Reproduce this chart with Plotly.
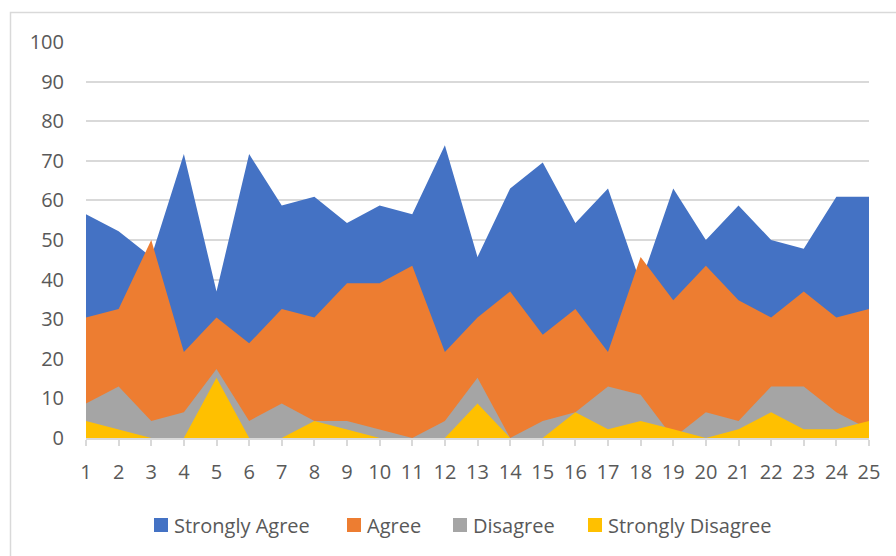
import plotly.graph_objects as go

respondents = [1, 2, 3, 4, 5, 6, 7, 8, 9, 10, 11, 12, 13, 14, 15, 16, 17, 18, 19, 20, 21, 22, 23, 24, 25]
tick_labels = ["1", "2", "3", "4", "5", "6", "7", "8", "9", "10", "11", "12", "13",
               "14", "15", "16", "17", "18", "19", "20", "21", "22", "23", "24", "25"]

strongly_agree = [56.5, 52.2, 45.7, 71.7, 37.0, 71.7, 58.7, 60.9, 54.3, 58.7, 56.5, 73.9, 45.7,
                  63.0, 69.6, 54.3, 63.0, 39.1, 63.0, 50.0, 58.7, 50.0, 47.8, 60.9, 60.9]
agree = [30.4, 32.6, 50.0, 21.7, 30.4, 23.9, 32.6, 30.4, 39.1, 39.1, 43.5, 21.7, 30.4,
         37.0, 26.1, 32.6, 21.7, 45.7, 34.8, 43.5, 34.8, 30.4, 37.0, 30.4, 32.6]
disagree = [8.7, 13.0, 4.3, 6.5, 17.4, 4.3, 8.7, 4.3, 4.3, 2.2, 0.0, 4.3, 15.2,
            0.0, 4.3, 6.5, 13.0, 10.9, 0.0, 6.5, 4.3, 13.0, 13.0, 6.5, 2.2]
strongly_disagree = [4.3, 2.2, 0.0, 0.0, 15.2, 0.0, 0.0, 4.3, 2.2, 0.0, 0.0, 0.0, 8.7,
                     0.0, 0.0, 6.5, 2.2, 4.3, 2.2, 0.0, 2.2, 6.5, 2.2, 2.2, 4.3]

series_names = ["Strongly Agree", "Agree", "Disagree", "Strongly Disagree"]
series_values = [strongly_agree, agree, disagree, strongly_disagree]
series_colors = ["#4472C4", "#ED7D31", "#A5A5A5", "#FFC000"]

FONT = "Open Sans, Liberation Sans, sans-serif"
TEXT = "#595959"
GRID = "#D9D9D9"

# plot area geometry (pixels)
L, T, W, H = 86, 42, 783, 396


def px_x(p):
    return (p - L) / W


def px_y(p):
    return (T + H - p) / H


fig = go.Figure()
for name, vals, color in zip(series_names, series_values, series_colors):
    fig.add_trace(go.Scatter(
        x=respondents, y=vals, name=name, mode="lines",
        fill="tozeroy", fillcolor=color, line=dict(width=0, color=color),
        showlegend=False, hoverinfo="skip",
    ))

# legend drawn as swatches + labels (positions in pixels)
legend_square_x = [154, 347, 453, 588]
legend_y = 525
shapes = [dict(
    type="rect", xref="paper", yref="paper",
    x0=px_x(10.5), x1=px_x(905), y0=px_y(570), y1=px_y(12.5),
    line=dict(color=GRID, width=1.5), fillcolor="rgba(0,0,0,0)", layer="below",
)]
annotations = []
for name, color, sx in zip(series_names, series_colors, legend_square_x):
    shapes.append(dict(
        type="rect", xref="paper", yref="paper",
        x0=px_x(sx), x1=px_x(sx + 14), y0=px_y(legend_y + 7), y1=px_y(legend_y - 7),
        line=dict(width=0), fillcolor=color,
    ))
    annotations.append(dict(
        text=name, xref="paper", yref="paper", x=px_x(sx + 18), y=px_y(legend_y),
        xanchor="left", yanchor="middle", showarrow=False,
        font=dict(family=FONT, size=20, color=TEXT),
    ))

fig.update_layout(
    width=896, height=556,
    margin=dict(l=L, r=896 - L - W, t=T, b=556 - T - H),
    paper_bgcolor="white", plot_bgcolor="white",
    font=dict(family=FONT, size=20, color=TEXT),
    showlegend=False,
    xaxis=dict(
        range=[1, 25], tickmode="array", tickvals=respondents, ticktext=tick_labels,
        showgrid=False, zeroline=False,
        showline=True, linecolor=GRID, linewidth=1.5,
        ticks="outside", ticklen=6, tickcolor=GRID, tickwidth=1.5,
        ticklabelstandoff=9,
        tickfont=dict(family=FONT, size=20, color=TEXT),
    ),
    yaxis=dict(
        range=[0, 100], tickmode="linear", tick0=0, dtick=10,
        showgrid=True, gridcolor=GRID, gridwidth=1.5,
        zeroline=False, showline=False, ticks="",
        ticklabelstandoff=21,
        tickfont=dict(family=FONT, size=20, color=TEXT),
    ),
    shapes=shapes,
    annotations=annotations,
)

fig.write_html("out.html", config={"displayModeBar": False},
               post_script="document.body.style.margin='0';")
